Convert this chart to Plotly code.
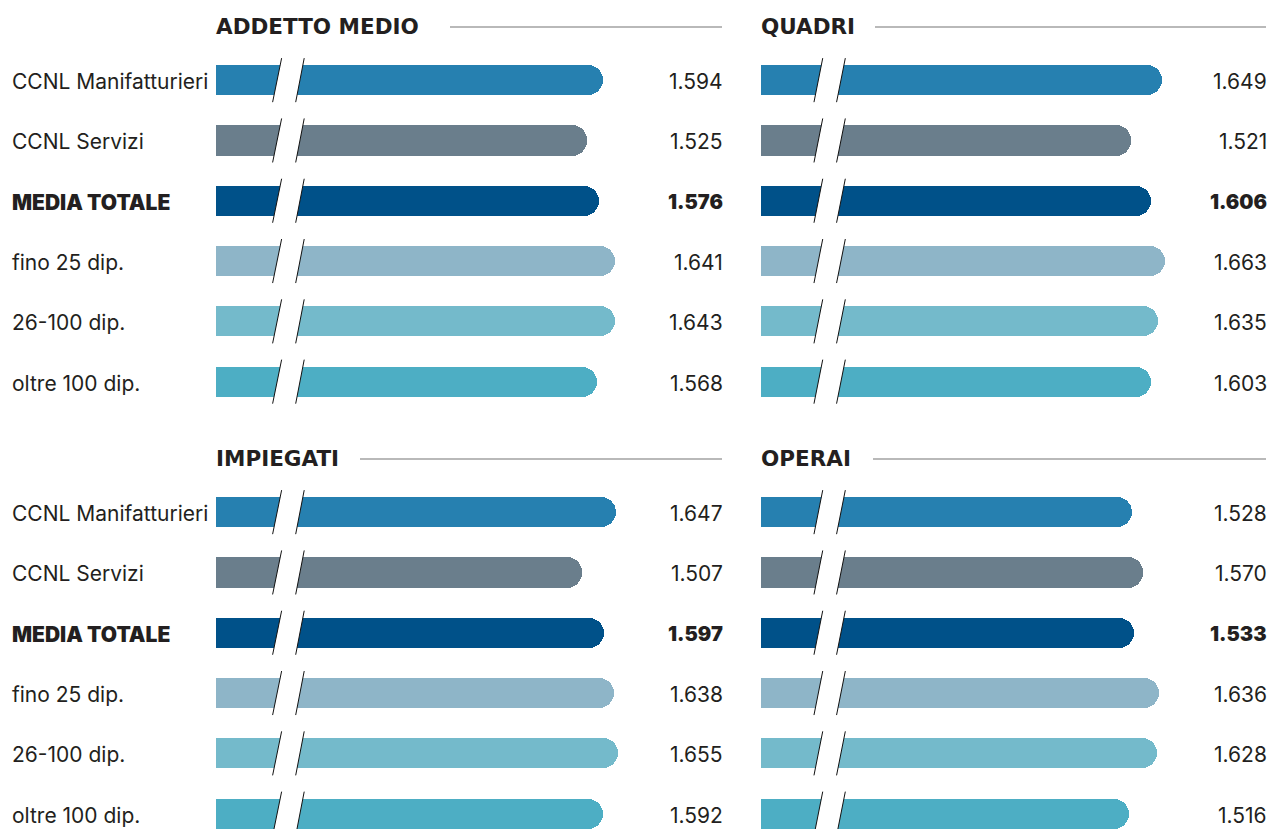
import plotly.graph_objects as go

# Retribuzione media per gruppo di addetti (valori in euro)
categories = ["CCNL Manifatturieri", "CCNL Servizi", "MEDIA TOTALE",
              "fino 25 dip.", "26-100 dip.", "oltre 100 dip."]
panel_titles = ["ADDETTO MEDIO", "QUADRI", "IMPIEGATI", "OPERAI"]
addetto_medio = [1594, 1525, 1576, 1641, 1643, 1568]
quadri = [1649, 1521, 1606, 1663, 1635, 1603]
impiegati = [1647, 1507, 1597, 1638, 1655, 1592]
operai = [1528, 1570, 1533, 1636, 1628, 1516]
series = [addetto_medio, quadri, impiegati, operai]

bar_colors = ["#2680b0", "#6a7e8c", "#005189", "#8eb5c8", "#74bacb", "#4daec4"]
TEXT = "#231f20"
FONT = "Inter"
TITLE_FONT = "DejaVu Sans"

W, H = 1269, 829
PX_PER_UNIT = 0.2430          # pixels per euro on the bar axis
ROW = 60.3                    # pixel pitch between bars
col_px = [(216, 722), (761, 1266)]
row_px = [(50, 50 + 6 * ROW), (482, 829)]
title_line_start = [450, 875, 360, 873]
break_off = [(0.233, 0.270, 0.328, 0.363), (0.218, 0.254, 0.311, 0.347)]

fig = go.Figure()
layout = dict(width=W, height=H, autosize=False,
              margin=dict(l=0, r=0, t=0, b=0, pad=0),
              paper_bgcolor="white", plot_bgcolor="white",
              showlegend=False, separators=",.",
              font=dict(family=FONT, color=TEXT),
              bargap=0)
shapes, annotations = [], []


def label_font(bold, size=21):
    return dict(family=FONT, size=size, color=TEXT,
                weight=900 if bold else 400)


for p in range(4):
    r, c = divmod(p, 2)
    ax = "" if p == 0 else str(p + 1)
    x0, x1 = col_px[c]
    y0, y1 = row_px[r]
    xmax = (x1 - x0) / PX_PER_UNIT
    layout["xaxis" + ax] = dict(domain=[x0 / W, x1 / W], range=[0, xmax],
                                visible=False, fixedrange=True,
                                anchor="y" + ax)
    layout["yaxis" + ax] = dict(domain=[1 - y1 / H, 1 - y0 / H],
                                range=[(y1 - y0) / ROW - 0.5, -0.5],
                                visible=False, fixedrange=True,
                                anchor="x" + ax)
    vals = series[p]
    ypos = list(range(len(categories)))
    fig.add_trace(go.Bar(
        x=vals, y=ypos, orientation="h", width=0.5,
        marker=dict(color=bar_colors, line=dict(width=0), cornerradius=15),
        xaxis="x" + ax, yaxis="y" + ax, hoverinfo="skip"))

    # value labels, right-aligned at the end of each panel
    for i, v in enumerate(vals):
        s = f"{v:,}".replace(",", ".")
        bold = categories[i] == "MEDIA TOTALE"
        annotations.append(dict(
            text=s, x=xmax, y=i, xref="x" + ax, yref="y" + ax,
            xanchor="right", yanchor="middle", xshift=3, yshift=-1.5,
            showarrow=False,
            font=label_font(bold, 20 if bold else 21)))

    # axis break marks on every bar
    a, b, cc, d = (o * 1000 for o in break_off[c])
    h = 0.365
    for i in ypos:
        shapes.append(dict(
            type="path", xref="x" + ax, yref="y" + ax,
            path=f"M {a} {i + h} L {b} {i - h} L {d} {i - h} L {cc} {i + h} Z",
            fillcolor="white", line=dict(width=0), layer="above"))
        shapes.append(dict(
            type="path", xref="x" + ax, yref="y" + ax,
            path=f"M {a} {i + h} L {b} {i - h} M {cc} {i + h} L {d} {i - h}",
            line=dict(color="#111111", width=1), layer="above"))

    # panel title and rule
    ty = 27 if r == 0 else 459
    annotations.append(dict(
        text=panel_titles[p], x=x0 / W, y=1 - ty / H,
        xref="paper", yref="paper", xanchor="left", yanchor="middle",
        xshift=-2, yshift=0, showarrow=False,
        font=dict(family=TITLE_FONT, size=21.5, color=TEXT, weight="bold")))
    shapes.append(dict(type="line", xref="paper", yref="paper",
                       x0=title_line_start[p] / W, x1=x1 / W,
                       y0=1 - ty / H, y1=1 - ty / H,
                       line=dict(color="#b9b9b9", width=2)))

    # category labels on the left column only
    if c == 0:
        for i, cat in enumerate(categories):
            annotations.append(dict(
                text=cat, x=10 / W, y=i, xref="paper", yref="y" + ax,
                xanchor="left", yanchor="middle", yshift=-1.5,
                showarrow=False,
                font=label_font(cat == "MEDIA TOTALE")))

layout["shapes"] = shapes
layout["annotations"] = annotations
fig.update_layout(**layout)
fig.write_html("out.html")
